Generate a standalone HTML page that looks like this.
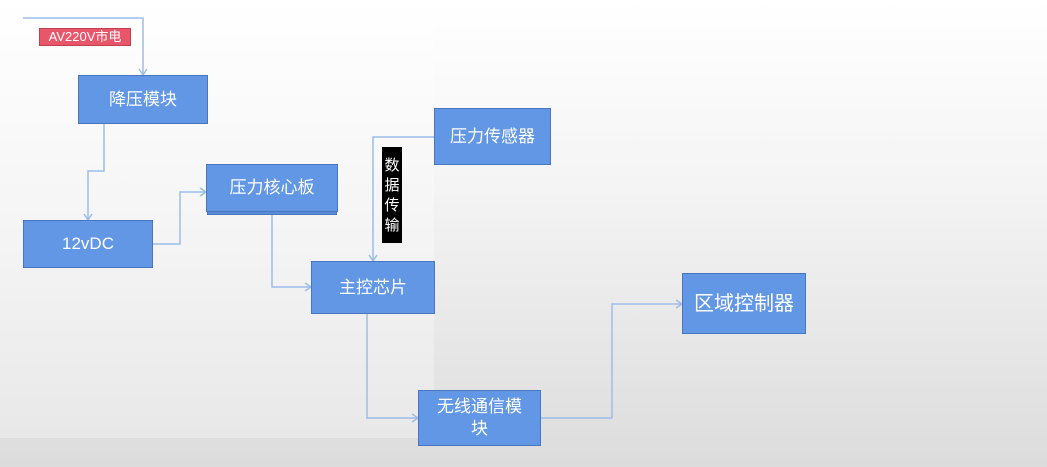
<!DOCTYPE html>
<html><head><meta charset="utf-8"><style>
html,body{margin:0;padding:0}
body{width:1047px;height:467px;position:relative;overflow:hidden;background:linear-gradient(#ffffff,#f4f4f4 40%,#dcdcdc);font-family:"Liberation Sans","Noto Sans CJK SC",sans-serif}
.panel{position:absolute;left:0;top:0;width:434px;height:438px;background:linear-gradient(#ffffff,#f3f3f3 60%,#e8e8e8)}
.b{position:absolute;box-sizing:border-box;background:#6197e4;border:1px solid #4a76bf;color:#fff;display:flex;align-items:center;justify-content:center;text-align:center;font-size:17px;line-height:22px}
svg{position:absolute;left:0;top:0}
</style></head><body>
<div class="panel"></div>
<svg width="1047" height="467" fill="none" stroke="#9cbde9" stroke-width="1.5">
<polyline points="23,18 143,18 143,75"/><polyline points="139,69 143,75 147,69"/>
<polyline points="104,123 104,171 88,171 88,220"/><polyline points="84,214 88,220 92,214"/>
<polyline points="152,244 180,244 180,192 206,192"/><polyline points="200,188 206,192 200,196"/>
<polyline points="272,214 272,287 311,287"/><polyline points="305,283 311,287 305,291"/>
<polyline points="434,137 373,137 373,261"/><polyline points="369,255 373,261 377,255"/>
<polyline points="367,313 367,418 418,418"/><polyline points="412,414 418,418 412,422"/>
<polyline points="540,418 612,418 612,304 682,304"/><polyline points="676,300 682,304 676,308"/>
</svg>
<div style="position:absolute;left:39px;top:28px;width:92px;height:18px;background:#e8566a;border:1px solid #c04050;box-sizing:border-box;color:#fff;font-size:13px;line-height:16px;text-align:center">AV220V市电</div>
<div class="b" style="left:78px;top:75px;width:130px;height:49px">降压模块</div>
<div class="b" style="left:23px;top:220px;width:130px;height:48px">12vDC</div>
<div style="position:absolute;left:207px;top:208px;width:130px;height:7px;background:#5a8bd6;border:1px solid #4a76bf;box-sizing:border-box"></div>
<div class="b" style="left:206px;top:164px;width:132px;height:48px">压力核心板</div>
<div class="b" style="left:311px;top:261px;width:124px;height:53px">主控芯片</div>
<div class="b" style="left:434px;top:108px;width:117px;height:57px">压力传感器</div>
<div class="b" style="left:418px;top:390px;width:123px;height:56px;line-height:22px">无线通信模<br>块</div>
<div class="b" style="left:682px;top:273px;width:124px;height:61px;font-size:20px">区域控制器</div>
<div style="position:absolute;left:382px;top:147px;width:20px;height:96px;background:#000;color:#fff;font-size:15px;line-height:20px;text-align:center;padding-top:9px;box-sizing:border-box">数<br>据<br>传<br>输</div>
</body></html>
